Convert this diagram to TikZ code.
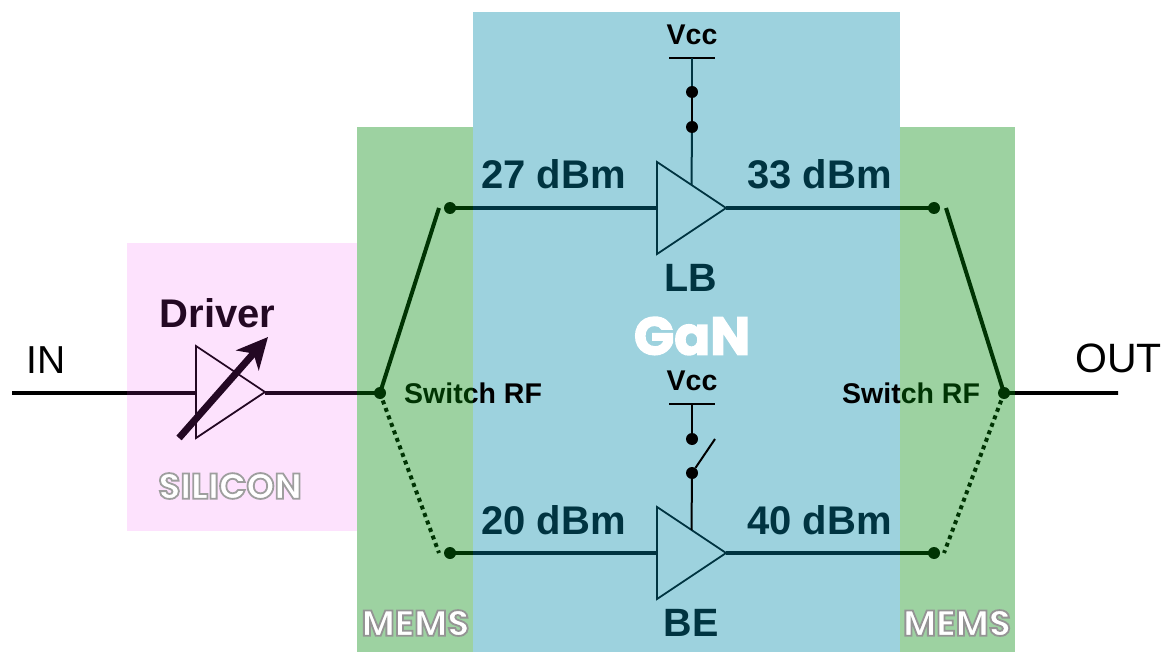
\documentclass[tikz,border=0pt]{standalone}
\usepackage{fontspec}
\usepackage{xcolor}
\usetikzlibrary{positioning, arrows.meta, shapes.geometric, calc}
\setmainfont{Liberation Sans}
\newfontfamily\displayface{Poppins Bold}
\definecolor{siliconpink}{RGB}{240,60,240}
\definecolor{memsgreen}{RGB}{0,137,10}
\definecolor{ganblue}{RGB}{0,137,170}
\definecolor{gandark}{RGB}{0,53,66}
% stroked letters: #1 is the pdf stroke colour and width
\newcommand{\outlined}[2]{{\color{white}\displayface\special{pdf:code 2 Tr #1}#2\special{pdf:code 0 Tr}}}
\tikzset{
  panel/.style={draw=none, opacity=0.385},
  amp/.style={
    draw,
    line width=1.8pt,
    outer sep=0pt,
    isosceles triangle,
    isosceles triangle stretches,
    shape border rotate=0,
    minimum width=92pt,
    minimum height=69pt,
    inner sep=0pt,
    anchor=apex
  },
  contact/.style={circle, fill, inner sep=0pt, minimum size=12pt},
  rfline/.style={line width=4pt},
  rfrough/.style={line width=4.6pt, dash pattern=on 3pt off 3pt},
  rfdots/.style={line width=4pt, dash pattern=on 4pt off 4pt},
  powerlabel/.style={font=\fontsize{40}{40}\bfseries\selectfont, anchor=west, inner sep=0pt},
  amplabel/.style={font=\fontsize{39.5}{39.5}\bfseries\selectfont, inner sep=0pt},
  vcclabel/.style={font=\fontsize{28.5}{28.5}\bfseries\selectfont, inner sep=0pt},
  switchlabel/.style={font=\fontsize{28.5}{28.5}\bfseries\selectfont, anchor=west, inner sep=0pt},
  portlabel/.style={anchor=west, inner sep=0pt},
  tag/.style={font=\fontsize{36}{36}\selectfont, inner sep=0pt}
}
\begin{document}
\begin{tikzpicture}[x=1pt, y=-1pt]
  \useasboundingbox (0,0) rectangle (1161,652);
  % amplifiers and RF paths
  \node[amp] (driveramp) at (265,392) {};
  \node[amp] (lbamp) at (726,208) {};
  \node[amp] (beamp) at (726,553) {};

  \node[contact] (inleft) at (380,393) {};
  \node[contact] (lbleft) at (450,208) {};
  \node[contact] (beleft) at (450,553) {};
  \node[contact] (inright) at (1004,393) {};
  \node[contact] (lbright) at (934,208) {};
  \node[contact] (beright) at (934,553) {};
  \coordinate (inport) at (12,393);
  \coordinate (outport) at (1118,393);
  \coordinate (lbleftblade) at (439,208);
  \coordinate (beleftblade) at (439,553);
  \coordinate (lbrightblade) at (946,208);
  \coordinate (berightblade) at (944,553);

  \draw[rfline] (inport) -- (inport -| driveramp.lower side);
  \draw[rfline] (inleft.center -| driveramp.apex) -- (inleft.center);
  \draw[rfrough] (inleft.center -| driveramp.apex) -- (inleft.center);
  \draw[rfline] (inright.center) -- (outport);
  \draw[rfrough] (inright.center) -- (outport);
  \draw[rfline] (lbleft.center) -- (lbamp.lower side);
  \draw[rfline] (lbamp.apex) -- (lbright.center);
  \draw[rfline] (beleft.center) -- (beamp.lower side);
  \draw[rfline] (beamp.apex) -- (beright.center);
  \draw[rfline] (inleft.center) -- (lbleftblade);
  \draw[rfline] (inright.center) -- (lbrightblade);
  \draw[rfdots] (inleft.center) -- (beleftblade);
  \draw[rfdots] (inright.center) -- (berightblade);

  \coordinate (tunelow) at (179,438);
  \coordinate (tunehigh) at (268,337);
  \draw[line width=7pt, -{Stealth[length=31pt, width=30pt, inset=9pt]}] (tunelow) -- (tunehigh);

  \node[font=\fontsize{40}{40}\bfseries\selectfont, inner sep=0pt] (driverlabel) at (217.5,313) {Driver};
  \node[powerlabel] (lbinlabel) at (481,174) {27 dBm};
  \node[powerlabel] (lboutlabel) at (747,174) {33 dBm};
  \node[powerlabel] (beinlabel) at (481,520) {20 dBm};
  \node[powerlabel] (beoutlabel) at (747,520) {40 dBm};
  \node[amplabel] (lblabel) at (691,278) {LB};
  \node[amplabel] (belabel) at (691,623) {BE};

  % technology panels
  \fill[panel, siliconpink, opacity=0.15] (127,243) rectangle (357,531);
  \fill[panel, ganblue] (473,12) rectangle (900,652);

  % supplies sit over the GaN panel
  \node[vcclabel] (vcctop) at (692,35) {Vcc};
  \node[contact] (lbsupplyhigh) at (692,92) {};
  \node[contact] (lbsupplylow) at (692,127) {};
  \coordinate (lbbar) at (692,58);
  \draw[line width=2.2pt] (669,58) -- (715,58);
  \draw[line width=2pt, gandark] (lbbar) -- (lbsupplyhigh);
  \draw[line width=2pt] (lbsupplyhigh) -- (lbsupplylow);
  \draw[line width=2pt, gandark] (lbsupplylow) -- (lbamp.left side);

  \node[vcclabel] (vccbottom) at (692,381) {Vcc};
  \node[contact] (besupplyhigh) at (692,439) {};
  \node[contact] (besupplylow) at (692,473) {};
  \coordinate (bebar) at (692,404);
  \coordinate (beblade) at (715,439);
  \draw[line width=2.2pt] (669,404) -- (715,404);
  \draw[line width=2pt] (bebar) -- (besupplyhigh);
  \draw[line width=2pt] (besupplylow) -- (beblade);
  \draw[line width=2pt] (besupplylow) -- (beamp.left side);

  \node[switchlabel] (switchleft) at (404,393) {Switch RF};
  \node[switchlabel] (switchright) at (842,393) {Switch RF};
  \node[portlabel, font=\fontsize{39}{39}\selectfont] (inlabel) at (26,360) {IN};
  \node[portlabel, font=\fontsize{41}{41}\selectfont] (outlabel) at (1075,358) {OUT};

  \fill[panel, memsgreen] (357,127) rectangle (473,652);
  \fill[panel, memsgreen] (900,127) rectangle (1015,652);

  \node[tag] (silicontag) at (230,486) {\outlined{0.62 G 1.8 w}{SILICON}};
  \node[tag] (memsleft) at (415.5,623) {\outlined{0.58 G 1.8 w}{MEMS}};
  \node[tag] (memsright) at (957,623) {\outlined{0.58 G 1.8 w}{MEMS}};
  \node[font=\fontsize{53}{53}\selectfont, inner sep=0pt] (gantag) at (692,336) {\outlined{1 G 1.4 w}{GaN}};
\end{tikzpicture}
\end{document}
